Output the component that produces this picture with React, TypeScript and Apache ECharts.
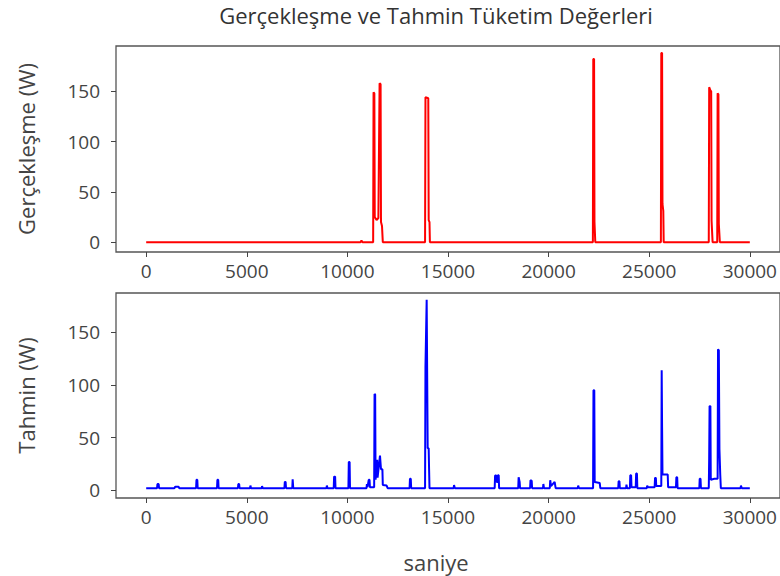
import React, { useEffect, useRef } from "react";
import * as echarts from "echarts";

const titleText = "Gerçekleşme ve Tahmin Tüketim Değerleri";
const topYName = "Gerçekleşme (W)";
const bottomYName = "Tahmin (W)";
const xName = "saniye";

const xTicks = [0, 5000, 10000, 15000, 20000, 25000, 30000];
const yTicks = [0, 50, 100, 150];

// Gerçekleşme (actual) breakpoints
const realX = [
  0, 10650, 10700, 10750,
  11280, 11300, 11340, 11360, 11450, 11540, 11600, 11650, 11670, 11720, 11760,
  13860, 13880, 14020, 14040, 14080, 14100,
  22200, 22220, 22260, 22280, 22300, 22320,
  25580, 25600, 25640, 25660, 25700, 25720,
  27960, 27980, 28040, 28080, 28100, 28130, 28150,
  28380, 28400, 28440, 28460, 28490, 28510,
  30000,
];
const realY = [
  0, 0, 1.7, 0,
  0, 149, 148, 25, 22, 24, 158, 157, 20, 16, 0,
  0, 144, 143, 22, 20, 0,
  0, 182, 182, 20, 20, 0,
  0, 188, 188, 38, 31, 0,
  0, 154, 151, 150, 21, 21, 0,
  0, 148, 147, 18, 18, 0,
  0,
];

// Tahmin (prediction) breakpoints
const predX = [
  0, 300, 540, 560, 620, 640, 1400, 1450, 1600, 1650,
  2480, 2500, 2540, 2560, 3520, 3540, 3580, 3600,
  4560, 4580, 4620, 4640, 5160, 5180, 5210, 5740, 5760, 5790,
  6870, 6890, 6930, 6950, 7260, 7280, 7310,
  8960, 8980, 9010, 9320, 9340, 9390, 9410,
  10050, 10070, 10110, 10130,
  10950, 10970, 11000, 11060, 11100, 11120, 11330, 11350, 11380, 11400, 11480, 11500, 11620, 11650, 11670, 11740, 11760, 11950, 12000,
  13090, 13110, 13150, 13170,
  13860, 13880, 13940, 13960, 13990, 14040, 14060, 14080,
  15280, 15300, 15340,
  17320, 17340, 17400, 17420, 17460, 17480, 17520, 17540,
  18490, 18510, 18560, 18580,
  19080, 19100, 19160, 19180, 19720, 19740, 19770,
  20060, 20080, 20120, 20300, 20330, 20350,
  21450, 21470, 21510,
  22210, 22230, 22270, 22290, 22540, 22570,
  23460, 23480, 23520, 23540, 23850, 23870, 23900,
  24040, 24060, 24100, 24120, 24330, 24350, 24390, 24410,
  24880, 24900, 24930, 25270, 25290, 25330, 25350,
  25600, 25620, 25640, 25660, 25700, 25920, 25940,
  26330, 26350, 26390, 26410,
  27490, 27510, 27550, 27570,
  27960, 27980, 28000, 28040, 28060, 28240, 28400, 28420, 28460, 28490, 28530, 28560,
  29540, 29560, 29600, 30000,
];
const predY = [
  2, 2, 2, 6, 6, 2, 2, 3.5, 3.5, 2,
  2, 10, 10, 2, 2, 10, 10, 2,
  2, 6, 6, 2, 2, 4.5, 2, 2, 4, 2,
  2, 8, 8, 2, 2, 10.5, 2,
  2, 4.5, 2, 2, 13, 13, 2,
  2, 27, 27, 2,
  2, 6, 3, 10, 10, 3, 3, 91.5, 91, 10, 29, 12, 33, 33, 20, 20, 5, 4.5, 2,
  2, 11, 11, 2,
  2, 117, 181, 181, 40, 40, 20, 2,
  2, 5, 2,
  2, 14, 14, 8, 8, 14.3, 14.3, 2,
  2, 12.4, 8, 2,
  2, 9.6, 9, 2, 2, 6, 2,
  2, 9.6, 4, 8, 8, 2,
  2, 4.5, 2,
  2, 95, 95, 8, 7, 2,
  2, 8.6, 8.6, 2, 2, 5.4, 2,
  2, 14.3, 14.3, 3, 3, 16, 16, 2,
  2, 4.5, 3, 3, 11.8, 11.8, 4,
  4, 114, 60, 15, 15, 15, 3,
  3, 12.4, 12.4, 2,
  2, 11, 11, 2,
  2, 30, 80, 80, 10, 11, 11, 134, 133, 39, 15, 2,
  2, 4.5, 2, 2,
];

const FONT = "'Open Sans', 'DejaVu Sans', sans-serif";
const TXT = "#444";

function pairs(xs: number[], ys: number[]) {
  return xs.map((x, i) => [x, ys[i]]);
}

function makeX(gridIndex: number) {
  return {
    gridIndex,
    type: "value",
    min: -1500,
    max: 31500,
    axisLine: { show: false, onZero: false },
    splitLine: { show: false },
    axisTick: { show: true, customValues: xTicks, length: 5, lineStyle: { color: TXT, width: 1 } },
    axisLabel: {
      customValues: xTicks,
      fontSize: 19,
      fontFamily: FONT,
      color: TXT,
      margin: 9,
      formatter: (v: number) => String(v),
    },
  };
}

function makeY(gridIndex: number, min: number, max: number, name: string) {
  return {
    gridIndex,
    type: "value",
    min,
    max,
    name,
    nameLocation: "middle",
    nameGap: 79,
    nameTextStyle: { fontSize: 22, fontFamily: FONT, color: TXT },
    axisLine: { show: false, onZero: false },
    splitLine: { show: false },
    axisTick: { show: true, customValues: yTicks, length: 5, lineStyle: { color: TXT, width: 1 } },
    axisLabel: {
      customValues: yTicks,
      fontSize: 19,
      fontFamily: FONT,
      color: TXT,
      margin: 16,
      formatter: (v: number) => String(v),
    },
  };
}

export default function App() {
  const ref = useRef<HTMLDivElement>(null);
  useEffect(() => {
    if (!ref.current) return;
    const chart = echarts.init(ref.current, undefined, { renderer: "svg" });
    chart.setOption({
      animation: false,
      backgroundColor: "#fff",
      graphic: [
        {
          type: "text",
          x: 436,
          y: 15,
          style: { text: titleText, font: `22px ${FONT}`, fill: "#333", textAlign: "center", textVerticalAlign: "middle" },
        },
        {
          type: "text",
          x: 436,
          y: 562,
          style: { text: xName, font: `22px ${FONT}`, fill: TXT, textAlign: "center", textVerticalAlign: "middle" },
        },
      ],
      grid: [
        { left: 116, width: 668, top: 46, height: 206, show: true, borderColor: "#555", borderWidth: 1.3 },
        { left: 116, width: 668, top: 293, height: 205, show: true, borderColor: "#555", borderWidth: 1.3 },
      ],
      xAxis: [makeX(0), makeX(1)],
      yAxis: [makeY(0, -9.8, 195, topYName), makeY(1, -7.3, 187.5, bottomYName)],
      series: [
        {
          type: "line",
          name: topYName,
          xAxisIndex: 0,
          yAxisIndex: 0,
          data: pairs(realX, realY),
          showSymbol: false,
          symbol: "none",
          lineStyle: { color: "#ff0000", width: 2 },
          itemStyle: { color: "#ff0000" },
        },
        {
          type: "line",
          name: bottomYName,
          xAxisIndex: 1,
          yAxisIndex: 1,
          data: pairs(predX, predY),
          showSymbol: false,
          symbol: "none",
          lineStyle: { color: "#0000ff", width: 2 },
          itemStyle: { color: "#0000ff" },
        },
      ],
    });
    return () => chart.dispose();
  }, []);
  return <div ref={ref} style={{ width: 780, height: 576, position: "absolute", left: 0, top: 0 }} />;
}
